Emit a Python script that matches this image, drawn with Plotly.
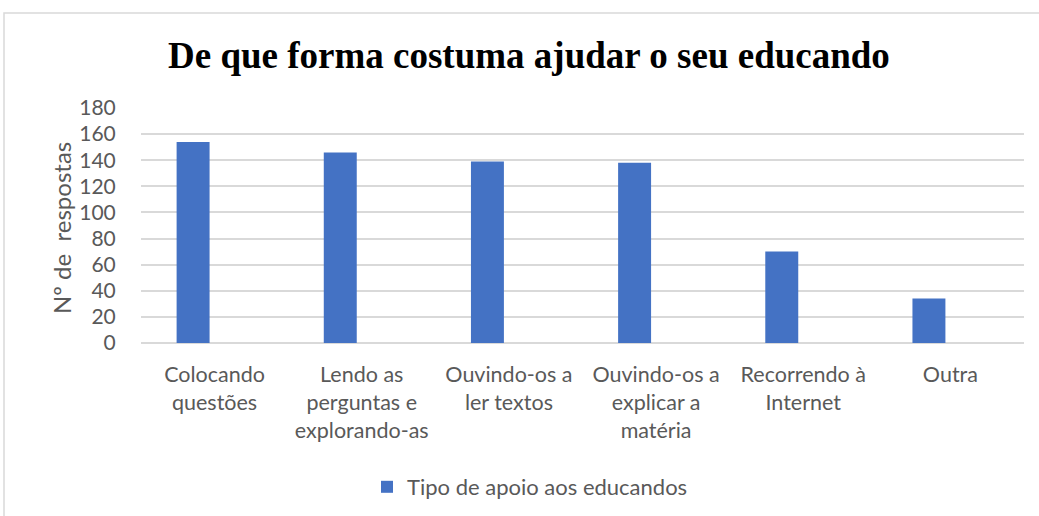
import plotly.graph_objects as go

categories = ["Colocando<br>questões", "Lendo as<br>perguntas e<br>explorando-as",
              "Ouvindo-os a<br>ler textos", "Ouvindo-os a<br>explicar a<br>matéria",
              "Recorrendo à<br>Internet", "Outra"]
values = [154, 146, 139, 138, 70, 34]
series_name = "Tipo de apoio aos educandos"
y_ticks = [0, 20, 40, 60, 80, 100, 120, 140, 160, 180]

W, H = 1039, 516
L, R, T, B = 141, 15, 108, 173
pw, ph = W - L - R, H - T - B

def px(x):
    return (x - L) / pw

def py(y):
    return (H - B - y) / ph

FONT = "Lato"
GREY = "#595959"

fig = go.Figure()
fig.add_trace(go.Bar(x=categories, y=values, name=series_name,
                     width=0.224, offset=-0.258,
                     marker=dict(color="#4472C4", line=dict(width=0)),
                     showlegend=True))

fig.update_layout(
    width=W, height=H,
    margin=dict(l=L, r=R, t=T, b=B, autoexpand=False),
    paper_bgcolor="white", plot_bgcolor="white",
    font=dict(family=FONT, color=GREY, size=21),
    xaxis=dict(showgrid=False, showline=False, zeroline=False,
               tickfont=dict(family=FONT, size=21.5, color=GREY),
               ticks="outside", ticklen=12, tickcolor="rgba(0,0,0,0)"),
    yaxis=dict(range=[0, 180], tickvals=y_ticks, showgrid=True,
               gridcolor="#d9d9d9", gridwidth=1.5, zeroline=True,
               zerolinecolor="#d9d9d9", zerolinewidth=1.5, showline=False,
               tickfont=dict(family=FONT, size=21, color=GREY),
               ticks="outside", ticklen=20, tickcolor="rgba(0,0,0,0)"),
    legend=dict(orientation="h", x=px(530), xanchor="center", y=py(487),
                yanchor="middle", font=dict(family=FONT, size=22, color=GREY),
                itemwidth=30, itemsizing="constant"),
    showlegend=True,
)

fig.add_annotation(text="<b>De que forma costuma ajudar o seu educando</b>",
                   x=px(529), y=py(55), xref="paper", yref="paper",
                   xanchor="center", yanchor="middle", showarrow=False,
                   font=dict(family="Liberation Serif", size=37, color="black"))

fig.add_annotation(text="Nº de  respostas", textangle=-90,
                   x=px(61), y=py(228), xref="paper", yref="paper",
                   xanchor="center", yanchor="middle", showarrow=False,
                   font=dict(family=FONT, size=24, color=GREY))

fig.add_shape(type="rect", xref="paper", yref="paper",
              x0=px(4), y0=py(530), x1=px(1050), y1=py(13),
              line=dict(color="#d9d9d9", width=1.5), fillcolor="rgba(0,0,0,0)",
              layer="below")

fig.write_html("out.html")
